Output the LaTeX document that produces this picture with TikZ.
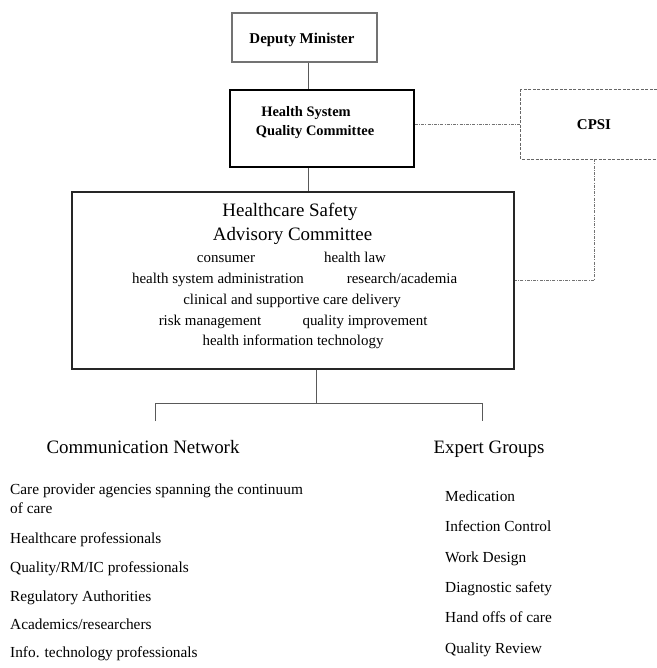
\documentclass[tikz,border=0pt]{standalone}
\usepackage{fontspec}
\setmainfont{Liberation Serif}
\usetikzlibrary{calc}
\begin{document}
\begin{tikzpicture}[x=1bp,y=-1bp,
  boxshape/.style={draw, inner sep=0pt, rectangle},
  conn/.style={draw=black!65, line width=0.9bp},
  dotconn/.style={draw=black!55, line width=0.8bp, dash pattern=on 3bp off 1.2bp on 1bp off 1.2bp},
  dashbox/.style={draw=black!60, line width=0.8bp, dash pattern=on 3bp off 1.5bp},
  tn/.style={inner sep=0pt, anchor=base, font=\fontsize{15}{18}\selectfont},
  tl/.style={inner sep=0pt, anchor=base west, font=\fontsize{15.4}{18}\selectfont},
  tbold/.style={inner sep=0pt, anchor=base, font=\fontsize{14.5}{17}\selectfont\bfseries},
  tbig/.style={inner sep=0pt, anchor=base, font=\fontsize{19}{22}\selectfont}]
\useasboundingbox (0,0) rectangle (657,668);
\coordinate (pageright) at (657,0);

% boxes
\node[boxshape, draw=black!55, line width=1.1bp, minimum width=145bp, minimum height=49bp] (dep) at (304.5,37.5) {};
\node[boxshape, line width=1.4bp, minimum width=184bp, minimum height=77bp] (hsqc) at (322,128.5) {};
\node[boxshape, draw=black!85, line width=1.2bp, minimum width=442bp, minimum height=177bp] (hsac) at (293,280.5) {};
\node[inner sep=0pt, minimum width=146bp, minimum height=69bp] (cpsi) at (594,124.5) {};
\draw[dashbox] (cpsi.north east -| pageright) -- (cpsi.north west) -- (cpsi.south west) -- (cpsi.south east -| pageright);

% texts
\node[tbold, font=\fontsize{15}{18}\selectfont\bfseries] (tdep) at (302,43.5) {Deputy Minister};
\node[tbold] (thsqc1) at (306,117) {Health System};
\node[tbold] (thsqc2) at (315,135) {Quality Committee};
\node[tbold, font=\fontsize{15}{18}\selectfont\bfseries] (tcpsi) at (594,130) {CPSI};

\node[tbig] (hs1) at (290,216) {Healthcare Safety};
\node[tbig] (hs2) at (292.5,240) {Advisory Committee};
\node[tn] (i1) at (226,262) {consumer};
\node[tn] (i2) at (355,262) {health law};
\node[tn] (i3) at (218,283) {health system administration};
\node[tn] (i4) at (402,283) {research/academia};
\node[tn] (i5) at (292,304) {clinical and supportive care delivery};
\node[tn] (i6) at (210,325) {risk management};
\node[tn] (i7) at (365,325) {quality improvement};
\node[tn] (i8) at (293,345) {health information technology};

\node[tbig] (cn) at (143,453) {Communication Network};
\node[tbig] (eg) at (489,453) {Expert Groups};

\node[tl] (c1) at (10,494) {Care provider agencies spanning the continuum};
\node[tl] (c1b) at (10,513) {of care};
\node[tl] (c2) at (10,543) {Healthcare professionals};
\node[tl] (c3) at (10,572) {Quality/RM/IC professionals};
\node[tl] (c4) at (10,601) {Regulatory Authorities};
\node[tl] (c5) at (10,629) {Academics/researchers};
\node[tl] (c6) at (10,657) {Info. technology professionals};

\node[tl] (e1) at (445,501) {Medication};
\node[tl] (e2) at (445,531) {Infection Control};
\node[tl] (e3) at (445,562) {Work Design};
\node[tl] (e4) at (445,592) {Diagnostic safety};
\node[tl] (e5) at (445,622) {Hand offs of care};
\node[tl] (e6) at (445,653) {Quality Review};

% connectors
\coordinate (vx) at (308,0);
\draw[conn] (dep.south -| vx) -- (hsqc.north -| vx);
\draw[conn] (hsqc.south -| vx) -- (hsac.north -| vx);
\draw[dotconn] (hsqc.east |- cpsi.west) -- (cpsi.west);
\draw[dotconn] (cpsi.south) |- (hsac.east);

\coordinate (treetop) at (316,403);
\coordinate (dropL) at (155,421);
\coordinate (dropR) at (482,421);
\draw[conn] (hsac.south -| treetop) -- (treetop);
\draw[conn] (dropL) -- (dropL |- treetop) -- (dropR |- treetop) -- (dropR);
\end{tikzpicture}
\end{document}
